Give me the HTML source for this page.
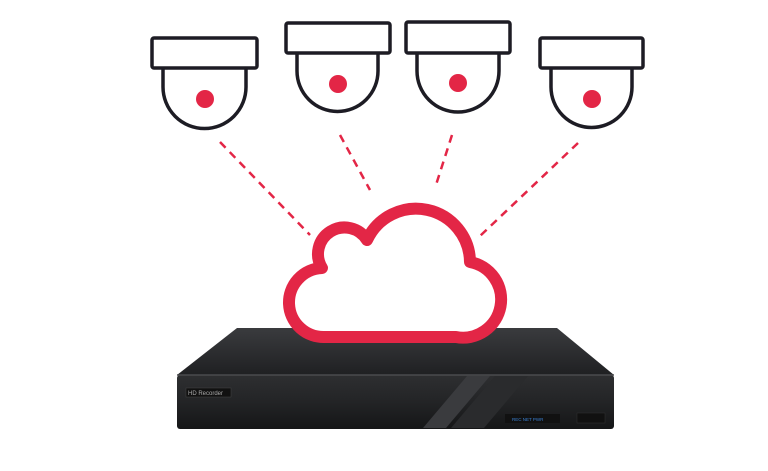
<!DOCTYPE html>
<html><head><style>body{margin:0;background:#fff}svg{display:block}</style></head><body>
<svg width="768" height="471" viewBox="0 0 768 471" xmlns="http://www.w3.org/2000/svg">
<defs>
<linearGradient id="top" x1="0" y1="0" x2="0" y2="1"><stop offset="0" stop-color="#3a3b3e"/><stop offset="1" stop-color="#1f2022"/></linearGradient>
<linearGradient id="front" x1="0" y1="0" x2="0" y2="1"><stop offset="0" stop-color="#2e2f31"/><stop offset="0.5" stop-color="#232426"/><stop offset="1" stop-color="#151617"/></linearGradient>
</defs>
<g fill="#fff" stroke="#1d1c24" stroke-width="3.5" stroke-linejoin="round">
<path d="M163,68 V87 A41.5,41.5 0 0 0 246,87 V68"/>
<rect x="152" y="38" width="105" height="30" rx="2"/>
<path d="M297,53 V71 A40.5,40.5 0 0 0 378,71 V53"/>
<rect x="286" y="23" width="104" height="30" rx="2"/>
<path d="M417,53 V71 A41,41 0 0 0 499,71 V53"/>
<rect x="406" y="22" width="104" height="31" rx="2"/>
<path d="M551,68 V87 A40.5,40.5 0 0 0 632,87 V68"/>
<rect x="540" y="38" width="103" height="30" rx="2"/>
</g>
<g fill="#e32646">
<circle cx="205" cy="99" r="9"/><circle cx="338" cy="84" r="9"/><circle cx="458" cy="83" r="9"/><circle cx="592" cy="99" r="9"/>
</g>
<g stroke="#e32646" stroke-width="2.5" stroke-dasharray="8,6">
<line x1="220" y1="142" x2="310" y2="235"/>
<line x1="340" y1="135" x2="370" y2="190"/>
<line x1="452" y1="135" x2="435" y2="188"/>
<line x1="578" y1="143" x2="480" y2="236"/>
</g>
<!-- NVR -->
<polygon points="237,328 557,328 614,375 177,375" fill="url(#top)"/>
<rect x="177" y="375" width="437" height="54" rx="3" fill="url(#front)"/>
<line x1="177" y1="375" x2="614" y2="375" stroke="#4a4b4e" stroke-width="1.5"/>
<polygon points="467,376 490,376 446,428 423,428" fill="#3a3b3e"/>
<polygon points="495,376 528,376 484,428 451,428" fill="#2a2b2d"/>
<rect x="186" y="388" width="45" height="9" fill="#111" stroke="#444" stroke-width="0.5"/>
<text x="188" y="395" font-family="Liberation Sans, sans-serif" font-size="6" fill="#aaa">HD Recorder</text>
<rect x="505" y="414" width="55" height="9" fill="#111"/>
<text x="512" y="421" font-family="Liberation Sans, sans-serif" font-size="4.5" fill="#3a7fd0">REC  NET  PWR</text>
<rect x="577" y="413" width="28" height="10" fill="#111" stroke="#333" stroke-width="0.5"/>
<!-- Cloud -->
<path d="M325,337 A34,34 0 0 1 322,268 A26,26 0 0 1 367,240 A54,54 0 0 1 470,262 A34,34 0 0 1 456,337 Z" fill="#fff" stroke="#e32646" stroke-width="12" stroke-linejoin="round"/>
</svg>
</body></html>
